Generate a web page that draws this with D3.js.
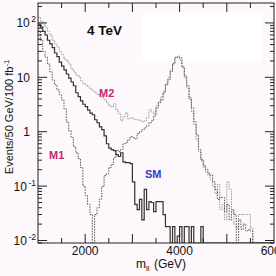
<!DOCTYPE html>
<html>
<head>
<meta charset="utf-8">
<script src="https://cdn.jsdelivr.net/npm/d3@7"></script>
<style>
  html, body { margin: 0; padding: 0; background: #fcf8fc; }
  svg { display: block; font-family: "Liberation Sans", Arial, sans-serif; }
</style>
</head>
<body>
<div id="chart"></div>
<script>
// 50 GeV bins starting at 1000 GeV
const binStart = 1000;
const binWidth = 50;

const smVals = [95, 84, 70, 60, 48, 41, 35, 28, 24, 19,
  16, 13.7, 11.5, 9.7, 8.2, 7, 5.2, 4.4, 3.7, 3.2,
  2.9, 2.5, 2.2, 2.05, 1.66, 1.46, 1.23, 1.09, 0.84, 0.6,
  0.5, 0.47, 0.45, 0.38, 0.35, 0.41, 0.28, 0.27, 0.27, 0.26,
  0.12, 0.046, 0.037, 0.057, 0.024, 0.087, 0.037, 0.052, 0.05, 0.034,
  0.052, 0.052, 0.052, 0.03, 0.018, 0.018, 0, 0.018, 0, 0.012,
  0.018, 0, 0.018, 0.018, 0, 0.018, 0, 0, 0, 0.018,
  0, 0, 0, 0, 0, 0, 0, 0, 0, 0,
  0, 0, 0, 0, 0, 0, 0, 0, 0, 0,
  0, 0, 0, 0, 0, 0, 0, 0, 0, 0];

const m1Vals = [70, 48, 30, 23.6, 17.5, 12.6, 8.96, 7.3, 5.9, 4.76,
  3.85, 2.64, 1.52, 1.04, 0.78, 0.53, 0.41, 0.32, 0.22, 0.1,
  0.067, 0.046, 0.03, 0, 0.03, 0.04, 0.057, 0.098, 0.156, 0.17,
  0.22, 0.25, 0.33, 0.45, 0.43, 0.47, 0.6, 0.63, 0.71, 0.81,
  0.78, 0.74, 0.92, 1.0, 1.09, 1.18, 1.29, 1.46, 1.59, 1.96,
  2.75, 3.4, 3.85, 5.2, 7.3, 9, 12.6, 17.6, 22.7, 23.6,
  22.7, 15.5, 10.6, 7, 4.2, 2.75, 1.52, 0.88, 0.47, 0.31,
  0.24, 0.2, 0.17, 0.16, 0.12, 0.087, 0.057, 0.062, 0.062, 0.034,
  0.046, 0.024, 0.037, 0.03, 0, 0.024, 0.016, 0.02, 0.015, 0.016,
  0.015, 0, 0, 0, 0, 0, 0, 0, 0, 0];

const m2Vals = [127, 107, 95, 84, 70, 60, 48, 41, 36, 30,
  26, 21.7, 20, 17.6, 14.3, 12.6, 11, 10.2, 8.6, 7.6,
  7.3, 6.7, 6.1, 5.6, 5.2, 4.8, 4.56, 4.2, 3.85, 3.4,
  3.0, 2.87, 3.26, 2.53, 2.14, 1.59, 1.88, 2.23, 1.73, 1.8,
  1.73, 1.66, 1.66, 1.59, 1.52, 1.59, 1.8, 2.53, 2.3, 2.14,
  3.0, 3.55, 4.4, 5.6, 7.6, 9.7, 13.7, 18.3, 23.6, 24.6,
  20.8, 14.9, 9.7, 6.4, 3.85, 2.3, 1.34, 0.71, 0.43, 0.29,
  0.22, 0.18, 0.156, 0.13, 0.1, 0.073, 0.107, 0.037, 0.046, 0.024,
  0.12, 0.087, 0.034, 0.02, 0.017, 0.03, 0.03, 0.03, 0.03, 0.03,
  0.017, 0, 0, 0, 0, 0, 0, 0, 0, 0];

const xTickLabels = ["2000", "4000", "6000"];
const yTickVals = [100, 10, 1, 0.1, 0.01];

const W = 276, H = 276;
const pL = 38, pR = 274, pT = 3, pB = 243;
const yMin = Math.pow(10, -2.046), yMax = Math.pow(10, 2.366);

const svg = d3.select("#chart").append("svg")
  .attr("width", W)
  .attr("height", H);

const x = d3.scaleLinear().domain([1000, 6000]).range([pL, pR]);
const y = d3.scaleLog().domain([yMin, yMax]).range([pB, pT]).clamp(true);

// white label box in the upper right
svg.append("rect")
  .attr("x", 143).attr("y", 13)
  .attr("width", 119).attr("height", 48)
  .attr("fill", "#ffffff");

svg.append("clipPath").attr("id", "clip")
  .append("rect")
  .attr("x", pL).attr("y", pT)
  .attr("width", pR - pL).attr("height", pB - pT);

function stepPoints(vals) {
  const pts = [];
  vals.forEach((v, i) => {
    const x0 = binStart + i * binWidth;
    const yy = v > 0 ? y(v) : pB;
    pts.push([x(x0), yy]);
    pts.push([x(x0 + binWidth), yy]);
  });
  return pts;
}

const line = d3.line();

const g = svg.append("g").attr("clip-path", "url(#clip)");

g.append("path")
  .attr("d", line(stepPoints(m2Vals)))
  .attr("fill", "none")
  .attr("stroke", "#9a9a9a")
  .attr("stroke-width", 1)
  .attr("stroke-dasharray", "1.5,1");

g.append("path")
  .attr("d", line(stepPoints(m1Vals)))
  .attr("fill", "none")
  .attr("stroke", "#555")
  .attr("stroke-width", 1)
  .attr("stroke-dasharray", "1.5,1.2");

g.append("path")
  .attr("d", line(stepPoints(smVals)))
  .attr("fill", "none")
  .attr("stroke", "#333")
  .attr("stroke-width", 1.2);

// frame
svg.append("rect")
  .attr("x", pL).attr("y", pT)
  .attr("width", pR - pL).attr("height", pB - pT)
  .attr("fill", "none")
  .attr("stroke", "#222")
  .attr("stroke-width", 1);

// x ticks, bottom and top
const xMinor = d3.range(1500, 6000, 500);
xMinor.forEach(v => {
  const major = v % 1000 === 0;
  const len = major ? 9 : 5;
  svg.append("line")
    .attr("x1", x(v)).attr("x2", x(v))
    .attr("y1", pB).attr("y2", pB - len)
    .attr("stroke", "#222");
  svg.append("line")
    .attr("x1", x(v)).attr("x2", x(v))
    .attr("y1", pT).attr("y2", pT + len)
    .attr("stroke", "#222");
});

// y ticks on both sides (log minor ticks)
const yMinor = [];
for (let e = -3; e <= 2; e++) {
  for (let k = 1; k <= 9; k++) yMinor.push(k * Math.pow(10, e));
}
yMinor.forEach(v => {
  if (v < yMin || v > yMax) return;
  const yy = y(v);
  const major = Math.abs(Math.log10(v) - Math.round(Math.log10(v))) < 1e-9;
  const len = major ? 9 : 4;
  svg.append("line")
    .attr("x1", pL).attr("x2", pL + len)
    .attr("y1", yy).attr("y2", yy)
    .attr("stroke", "#222");
  svg.append("line")
    .attr("x1", pR).attr("x2", pR - len)
    .attr("y1", yy).attr("y2", yy)
    .attr("stroke", "#222");
});

// x tick labels
xTickLabels.forEach(t => {
  svg.append("text")
    .attr("x", x(+t))
    .attr("y", 254.5)
    .attr("text-anchor", "middle")
    .attr("font-size", 12)
    .attr("fill", "#111")
    .text(t);
});

// y tick labels
yTickVals.forEach(v => {
  const e = Math.round(Math.log10(v));
  const t = svg.append("text")
    .attr("y", y(v) + 4.5)
    .attr("font-size", 12)
    .attr("fill", "#111")
    .attr("text-anchor", "end");
  if (e === 0 || e === 1) {
    t.attr("x", 30).text(e === 0 ? "1" : "10");
  } else {
    t.attr("x", 36);
    t.append("tspan").text("10");
    t.append("tspan").attr("dx", 1.5).attr("dy", -5).attr("font-size", 8.5).text(String(e));
  }
});

// axis titles
const xl = svg.append("text")
  .attr("x", 136).attr("y", 268)
  .attr("font-size", 12)
  .attr("fill", "#111");
xl.append("tspan").text("m");
xl.append("tspan").attr("dy", 3).attr("font-size", 8).text("ll");
xl.append("tspan").attr("dy", -3).attr("dx", 1).text(" (GeV)");

const yl = svg.append("text")
  .attr("transform", "translate(12.5,117) rotate(-90)")
  .attr("text-anchor", "middle")
  .attr("font-size", 11)
  .attr("fill", "#111");
yl.append("tspan").text("Events/50 GeV/100 fb");
yl.append("tspan").attr("dy", -4).attr("font-size", 7.5).text("-1");

// annotations
svg.append("text")
  .attr("x", 87).attr("y", 35)
  .attr("font-size", 13.5).attr("font-weight", "bold")
  .attr("fill", "#111")
  .text("4 TeV");

svg.append("text")
  .attr("x", 99).attr("y", 97)
  .attr("font-size", 11).attr("font-weight", "bold")
  .attr("fill", "#c4286e")
  .text("M2");

svg.append("text")
  .attr("x", 49).attr("y", 159)
  .attr("font-size", 11).attr("font-weight", "bold")
  .attr("fill", "#c4286e")
  .text("M1");

svg.append("text")
  .attr("x", 145).attr("y", 178)
  .attr("font-size", 11).attr("font-weight", "bold")
  .attr("fill", "#3b3bc4")
  .text("SM");
</script>
</body>
</html>
